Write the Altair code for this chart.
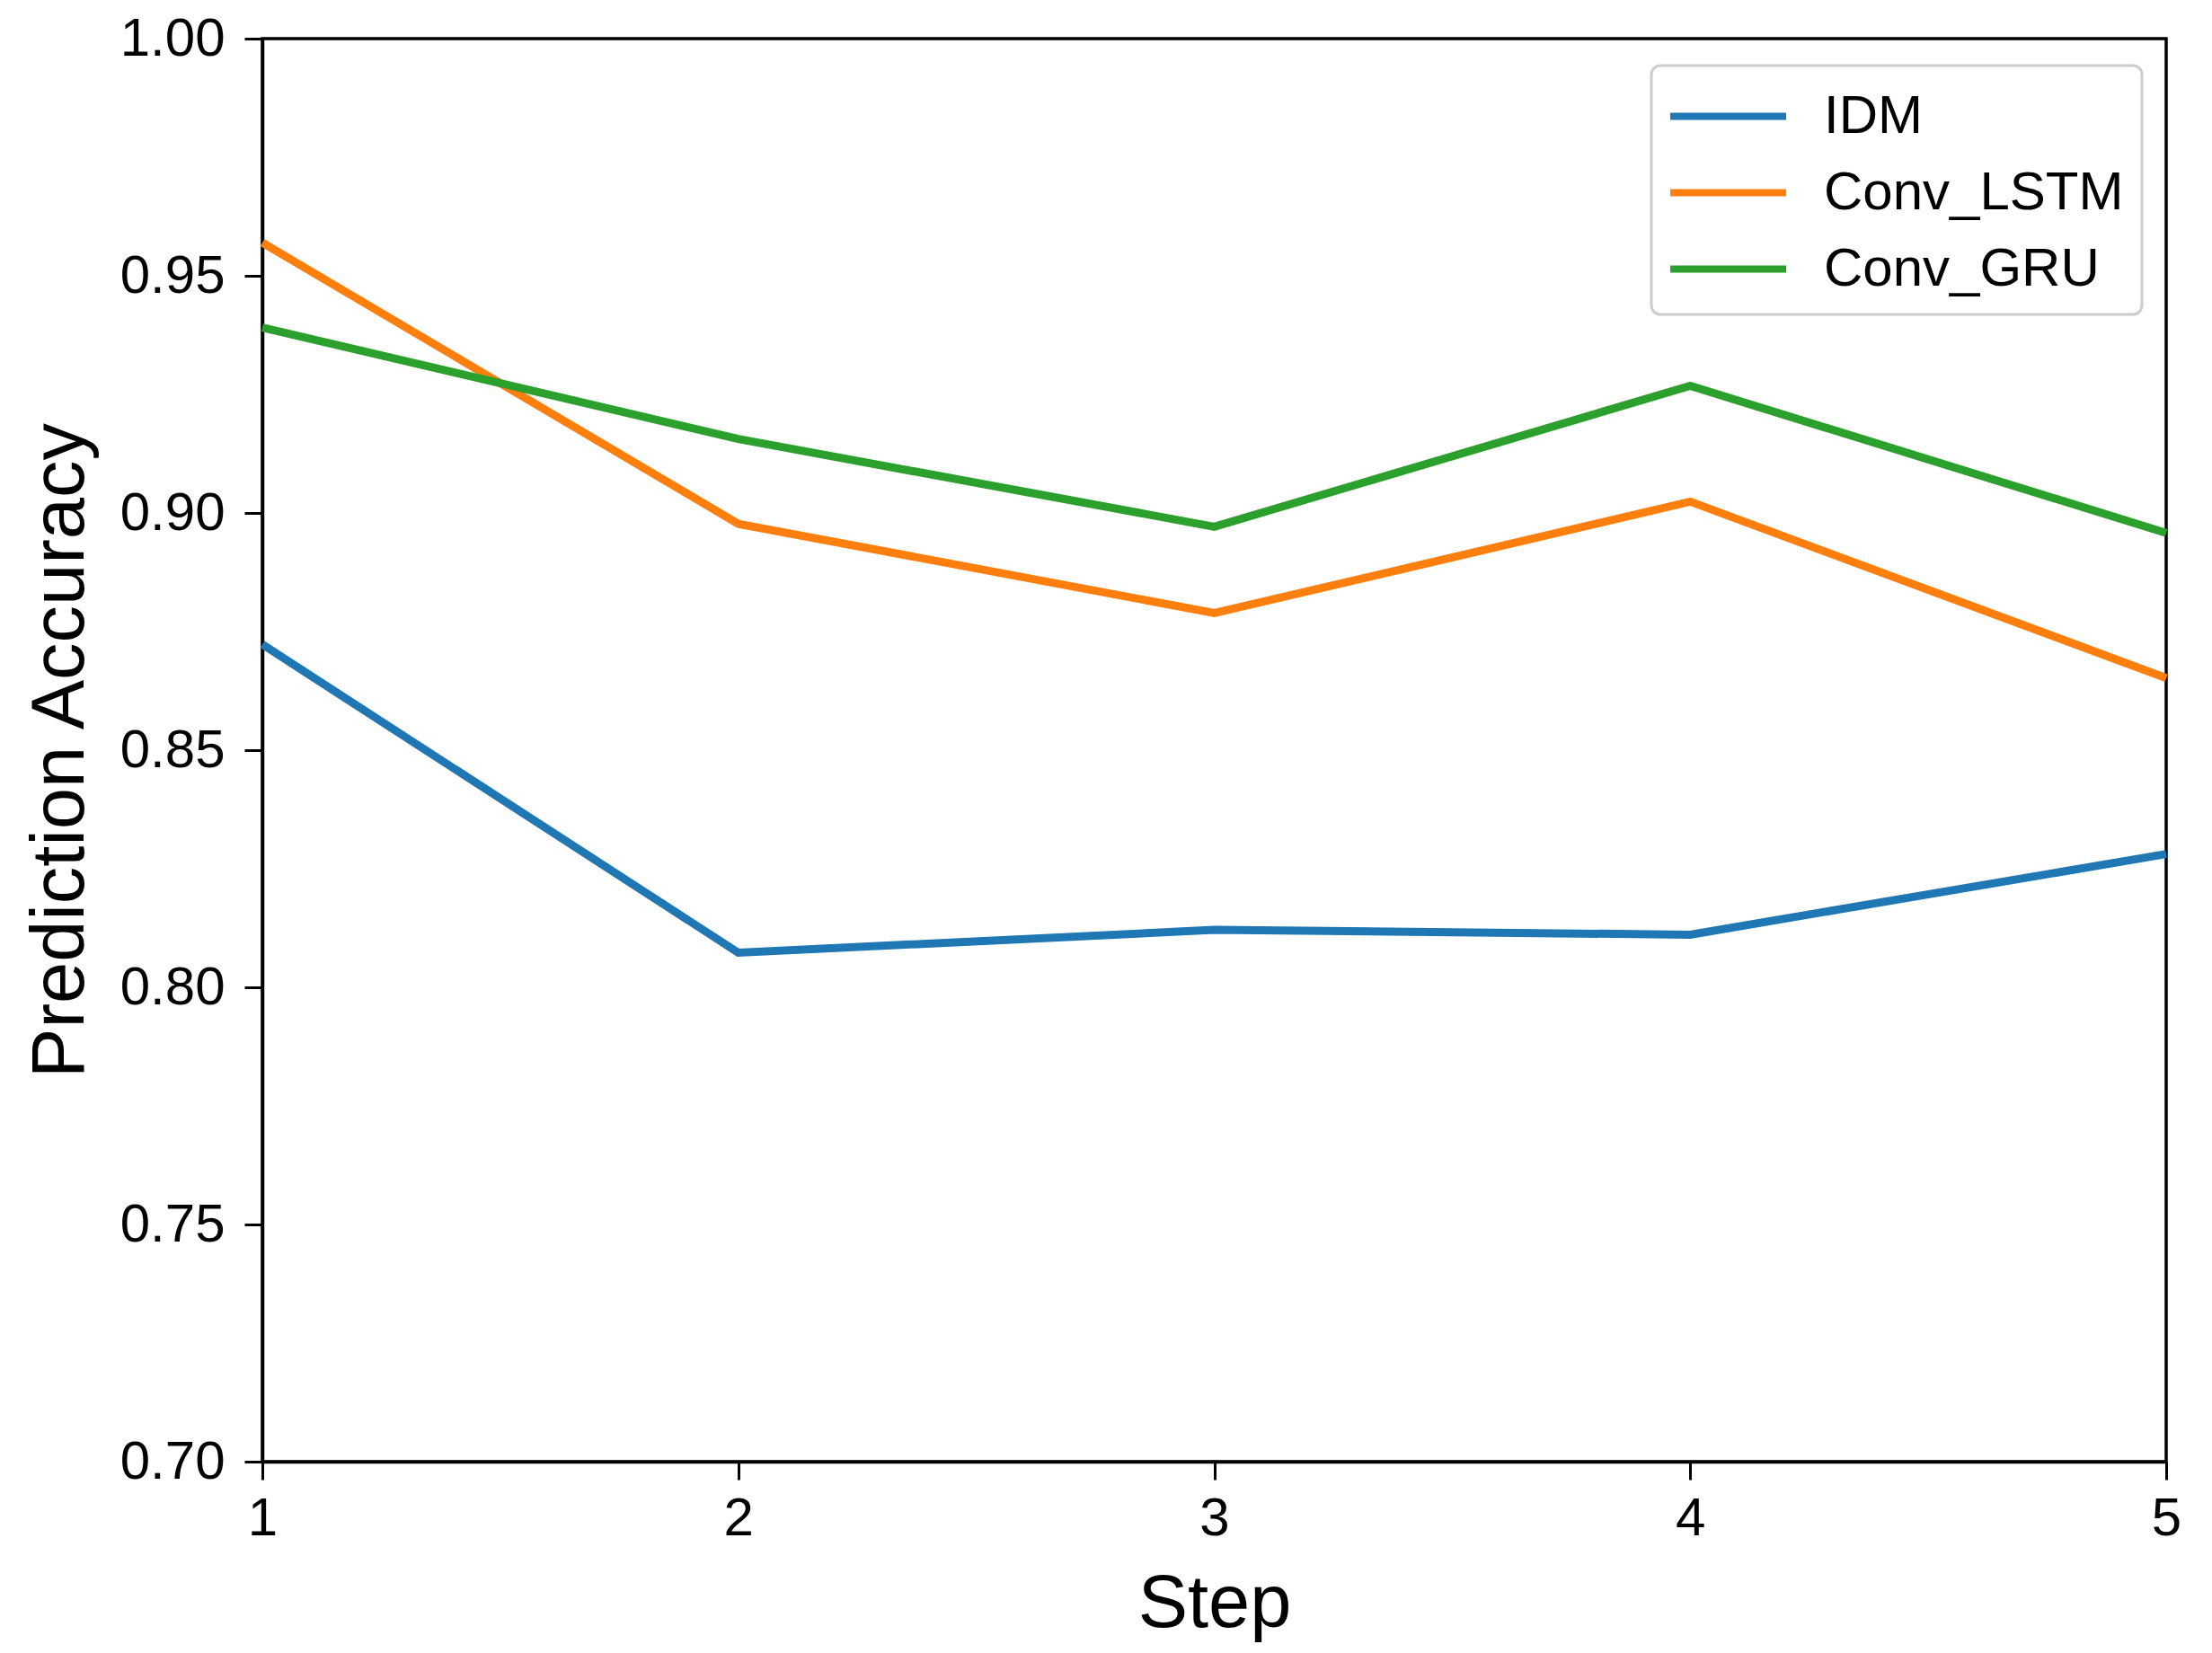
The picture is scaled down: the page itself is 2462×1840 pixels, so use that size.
import altair as alt
import pandas as pd

steps = [1, 2, 3, 4, 5]
series_names = ["IDM", "Conv_LSTM", "Conv_GRU"]
idm = [0.8723, 0.8073, 0.8121, 0.8111, 0.8281]
conv_lstm = [0.9570, 0.8977, 0.8789, 0.9024, 0.8652]
conv_gru = [0.9391, 0.9156, 0.8971, 0.9268, 0.8958]
colors = ["#1f77b4", "#ff7f0e", "#2ca02c"]
y_ticks = [0.70, 0.75, 0.80, 0.85, 0.90, 0.95, 1.00]

rows = []
for name, vals in zip(series_names, [idm, conv_lstm, conv_gru]):
    for s, v in zip(steps, vals):
        rows.append({"Step": s, "Accuracy": v, "Model": name})
df = pd.DataFrame(rows)

FONT = "Liberation Sans"

chart = alt.Chart(df).mark_line(strokeWidth=9).encode(
    x=alt.X("Step:Q",
            scale=alt.Scale(domain=[1, 5], nice=False, zero=False),
            axis=alt.Axis(values=steps, format="d", title="Step", grid=False, labelFlush=False)),
    y=alt.Y("Accuracy:Q",
            scale=alt.Scale(domain=[0.70, 1.00], nice=False, zero=False),
            axis=alt.Axis(values=y_ticks, format=".2f", title="Prediction Accuracy", grid=False, labelFlush=False)),
    color=alt.Color("Model:N",
                    scale=alt.Scale(domain=series_names, range=colors),
                    sort=series_names,
                    legend=alt.Legend(title=None, orient="none", legendX=1546, legendY=30)),
).properties(
    width=2119,
    height=1584,
    autosize=alt.AutoSizeParams(type="none"),
    padding={"left": 284, "top": 35, "right": 43, "bottom": 205},
).configure_view(
    stroke="black", strokeWidth=3.5
).configure_axis(
    domainColor="black", domainWidth=3.5,
    tickColor="black", tickWidth=3, tickSize=20,
    labelFont=FONT, labelFontSize=60, labelColor="black",
    titleFont=FONT, titleFontSize=83, titleColor="black", titleFontWeight="normal",
).configure_axisX(
    labelPadding=14, titlePadding=24,
).configure_axisY(
    labelPadding=22, titlePadding=24,
).configure_legend(
    symbolType="M-1.1,0H2.9", symbolSize=4160, symbolStrokeWidth=8,
    labelFont=FONT, labelFontSize=60, labelColor="black", labelLimit=1000,
    labelOffset=99, padding=20, rowPadding=18,
    fillColor="white", strokeColor="#cccccc", strokeWidth=3, cornerRadius=10,
)

chart.save("out.html", embed_options={"renderer": "svg", "actions": False})
